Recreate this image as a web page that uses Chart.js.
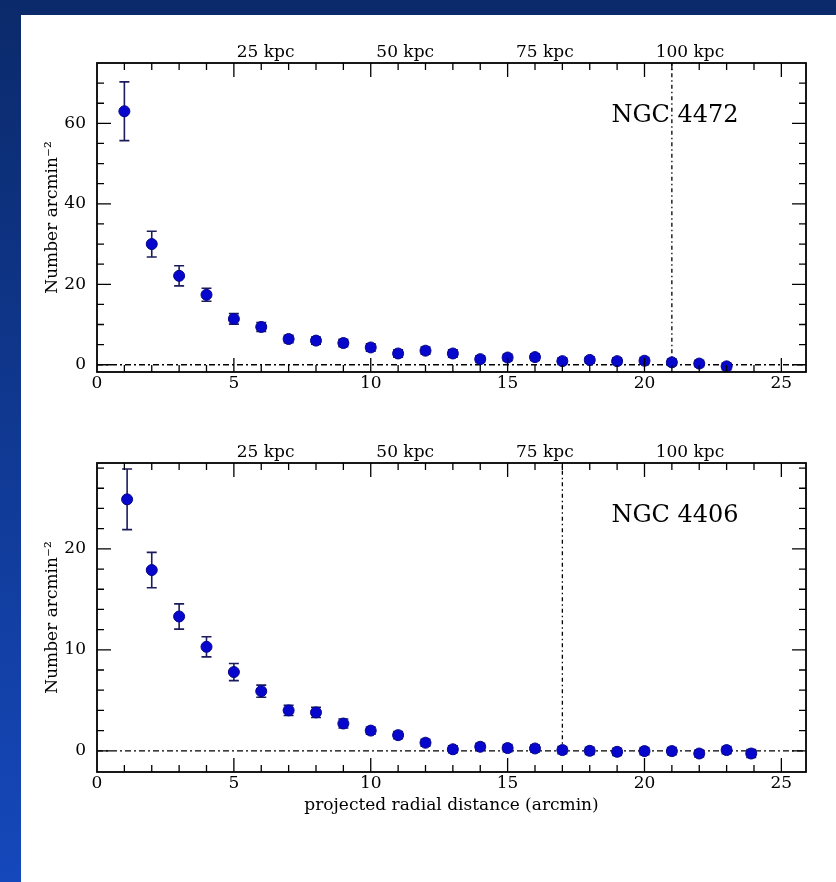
<!DOCTYPE html>
<html>
<head>
<meta charset="utf-8">
<script src="https://cdn.jsdelivr.net/npm/chart.js@4.4.0/dist/chart.umd.min.js"></script>
<style>
  body { margin: 0; width: 836px; height: 882px; background: #fff; position: relative; overflow: hidden; }
  #bandTop { position: absolute; left: 0; top: 0; width: 836px; height: 15px; background: #0b2a6b; }
  #bandLeft { position: absolute; left: 0; top: 0; width: 21px; height: 882px; background: linear-gradient(#0b2a6b, #1548bb); }
  canvas { position: absolute; left: 0; }
  #chart1 { top: 0; }
  #chart2 { top: 400px; }
</style>
</head>
<body>
<div id="bandTop"></div>
<div id="bandLeft"></div>
<canvas id="chart1" width="836" height="420"></canvas>
<canvas id="chart2" width="836" height="440"></canvas>
<script>
// NGC 4472 profile
const radius1 = [1, 2, 3, 4, 5, 6, 7, 8, 9, 10, 11, 12, 13, 14, 15, 16, 17, 18, 19, 20, 21, 22, 23];
const density1 = [63.0, 30.0, 22.1, 17.4, 11.4, 9.4, 6.4, 6.0, 5.4, 4.3, 2.8, 3.5, 2.8, 1.4, 1.8, 1.9, 0.9, 1.2, 0.9, 1.0, 0.6, 0.3, -0.4];
const error1 = [7.3, 3.2, 2.5, 1.6, 1.3, 1.1, 0.9, 0.9, 0.9, 0.9, 0.9, 0.9, 0.9, 0.8, 0.8, 0.8, 0.8, 0.8, 0.8, 0.8, 0.8, 0.8, 0.8];
const cutoff1 = 21;

// NGC 4406 profile
const radius2 = [1.1, 2, 3, 4, 5, 6, 7, 8, 9, 10, 11, 12, 13, 14, 15, 16, 17, 18, 19, 20, 21, 22, 23, 23.9];
const density2 = [24.9, 17.9, 13.3, 10.3, 7.8, 5.9, 4.0, 3.8, 2.7, 2.0, 1.55, 0.8, 0.15, 0.4, 0.27, 0.23, 0.07, 0.0, -0.1, -0.03, -0.03, -0.27, 0.07, -0.27];
const error2 = [3.0, 1.75, 1.25, 1.0, 0.85, 0.6, 0.5, 0.5, 0.45, 0.35, 0.35, 0.35, 0.35, 0.35, 0.35, 0.35, 0.35, 0.35, 0.35, 0.35, 0.35, 0.35, 0.35, 0.4];
const cutoff2 = 17;

// axes
const xTicks = [0, 5, 10, 15, 20, 25];
const yTicks1 = [0, 20, 40, 60];
const yTicks2 = [0, 10, 20];
const kpcValues = [25, 50, 75, 100];
const kpcLabels = ['25 kpc', '50 kpc', '75 kpc', '100 kpc'];
const kpcPerArcmin = 4.9;
const xMax = 25.9;

const serif = 'DejaVu Serif';

// inward tick marks + frame box
const frameTicks = {
  id: 'frameTicks',
  afterDraw(chart, args, opts) {
    const { ctx, chartArea: a, scales } = chart;
    const x = scales.x, y = scales.y;
    ctx.save();
    ctx.strokeStyle = '#000';
    ctx.lineWidth = 1.3;
    ctx.beginPath();
    for (let v = 0; v <= x.max; v += 1) {
      const px = x.getPixelForValue(v);
      if (px - a.left < 2 || a.right - px < 2) continue;
      const len = v % 5 === 0 ? 14 : 7;
      ctx.moveTo(px, a.bottom); ctx.lineTo(px, a.bottom - len);
      ctx.moveTo(px, a.top); ctx.lineTo(px, a.top + len);
    }
    const step = opts.minor, major = opts.major;
    for (let v = Math.ceil(y.min / step) * step; v <= y.max; v += step) {
      const py = y.getPixelForValue(v);
      if (py - a.top < 2 || a.bottom - py < 2) continue;
      const len = v % major === 0 ? 14 : 7;
      ctx.moveTo(a.left, py); ctx.lineTo(a.left + len, py);
      ctx.moveTo(a.right, py); ctx.lineTo(a.right - len, py);
    }
    ctx.stroke();
    ctx.lineWidth = 1.8;
    ctx.strokeRect(a.left, a.top, a.right - a.left, a.bottom - a.top);

    ctx.fillStyle = '#000';
    ctx.font = '24px "' + serif + '"';
    ctx.textAlign = 'center';
    ctx.textBaseline = 'middle';
    ctx.fillText(opts.name, a.right - 131, a.top + 53);
    ctx.restore();
  }
};

// vertical error bars, drawn under the markers
const errorBars = {
  id: 'errorBars',
  beforeDatasetDraw(chart, args, opts) {
    if (args.index !== 0) return;
    const { ctx } = chart;
    const y = chart.scales.y;
    const ds = chart.data.datasets[0];
    ctx.save();
    ctx.strokeStyle = '#1c1c5c';
    ctx.lineWidth = 1.6;
    ctx.beginPath();
    args.meta.data.forEach((pt, i) => {
      const e = opts.errors[i];
      const top = y.getPixelForValue(ds.data[i].y + e);
      const bot = y.getPixelForValue(ds.data[i].y - e);
      ctx.moveTo(pt.x, top); ctx.lineTo(pt.x, bot);
      ctx.moveTo(pt.x - 5, top); ctx.lineTo(pt.x + 5, top);
      ctx.moveTo(pt.x - 5, bot); ctx.lineTo(pt.x + 5, bot);
    });
    ctx.stroke();
    ctx.restore();
  }
};

function makePanel(id, p) {
  const points = p.radius.map((r, i) => ({ x: r, y: p.density[i] }));

  new Chart(document.getElementById(id), {
    type: 'scatter',
    data: {
      datasets: [{
        data: points,
        pointRadius: 5.5,
        pointBackgroundColor: '#0606cc',
        pointBorderColor: '#05058c',
        pointBorderWidth: 1
      }, {
        type: 'line',
        data: [{ x: 0, y: 0 }, { x: xMax, y: 0 }],
        borderColor: '#000',
        borderWidth: 1.3,
        borderDash: [6, 3, 2, 3],
        pointRadius: 0
      }, {
        type: 'line',
        data: [{ x: p.cutoff, y: 0 }, { x: p.cutoff, y: p.yMax }],
        borderColor: '#000',
        borderWidth: 1.3,
        borderDash: [4, 3, 1.5, 3],
        pointRadius: 0
      }]
    },
    options: {
      responsive: false,
      animation: false,
      devicePixelRatio: 1,
      layout: { padding: { left: 38, right: 30, top: 0, bottom: p.bottomPad } },
      plugins: {
        legend: { display: false },
        tooltip: { enabled: false },
        frameTicks: { name: p.name, minor: p.yMinor, major: p.yMajor },
        errorBars: { errors: p.errors }
      },
      scales: {
        x: {
          type: 'linear',
          position: 'bottom',
          min: 0,
          max: xMax,
          grid: { display: false, drawTicks: false },
          border: { display: false },
          afterBuildTicks: s => { s.ticks = xTicks.map(v => ({ value: v })); },
          afterFit: s => { s.height = 48; },
          ticks: { color: '#000', font: { family: serif, size: 17 }, padding: 1, maxRotation: 0, autoSkip: false },
          title: {
            display: p.xTitle,
            text: 'projected radial distance (arcmin)',
            color: '#000',
            font: { family: serif, size: 17 },
            padding: { top: 4, bottom: 4 }
          }
        },
        kpc: {
          type: 'linear',
          position: 'top',
          min: 0,
          max: xMax,
          grid: { display: false, drawTicks: false },
          border: { display: false },
          afterBuildTicks: s => { s.ticks = kpcValues.map(k => ({ value: k / kpcPerArcmin })); },
          afterFit: s => { s.height = 63; },
          ticks: {
            align: 'start',
            color: '#000',
            font: { family: serif, size: 17 },
            padding: 0,
            maxRotation: 0,
            autoSkip: false,
            callback: (v, i) => kpcLabels[i]
          }
        },
        y: {
          type: 'linear',
          min: p.yMin,
          max: p.yMax,
          grid: { display: false, drawTicks: false },
          border: { display: false },
          afterBuildTicks: s => { s.ticks = p.yTicks.map(v => ({ value: v })); },
          afterFit: s => { s.width = 59; },
          ticks: { color: '#000', font: { family: serif, size: 17 }, padding: 11 },
          title: {
            display: true,
            text: 'Number arcmin⁻²',
            color: '#000',
            font: { family: serif, size: 17 },
            padding: { top: 4, bottom: 4 }
          }
        }
      }
    },
    plugins: [frameTicks, errorBars]
  });
}

makePanel('chart1', {
  radius: radius1, density: density1, errors: error1, cutoff: cutoff1,
  name: 'NGC 4472', yMin: -1.8, yMax: 75, yTicks: yTicks1, yMinor: 5, yMajor: 20,
  bottomPad: 0, xTitle: false
});

makePanel('chart2', {
  radius: radius2, density: density2, errors: error2, cutoff: cutoff2,
  name: 'NGC 4406', yMin: -2.1, yMax: 28.5, yTicks: yTicks2, yMinor: 2, yMajor: 10,
  bottomPad: 20, xTitle: true
});
</script>
</body>
</html>
